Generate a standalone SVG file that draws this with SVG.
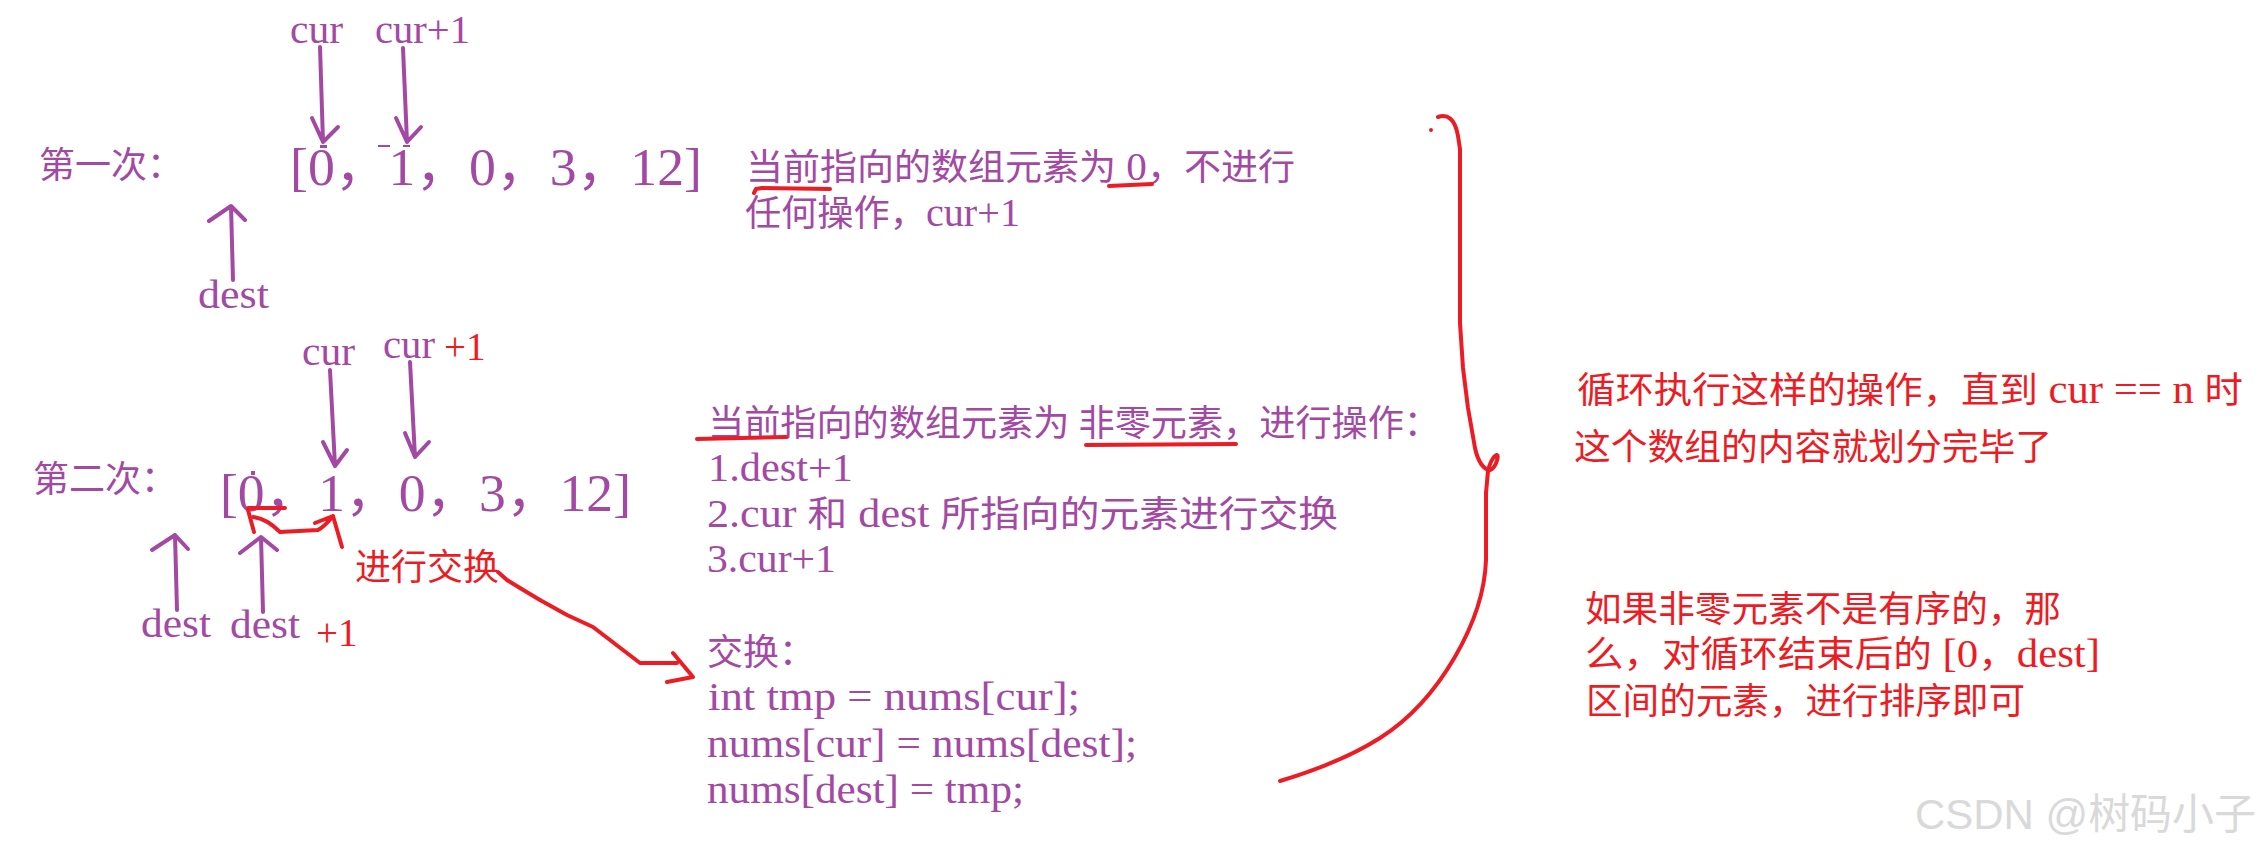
<svg xmlns="http://www.w3.org/2000/svg" width="2262" height="853" viewBox="0 0 2262 853">
<style>
.t{font-family:"Liberation Serif","Noto Sans CJK SC",serif}
.p{fill:#a349a4}
.r{fill:#ed1c24}
.L{font-size:40px}
.ap{fill:none;stroke:#a349a4;stroke-width:4;stroke-linecap:round;stroke-linejoin:round}
.ar{fill:none;stroke:#ed1c24;stroke-width:4;stroke-linecap:round;stroke-linejoin:round}
.wm{font-family:"Liberation Sans","Noto Sans CJK SC",sans-serif;fill:#d9d9d9}
</style>
<rect width="2262" height="853" fill="#ffffff"/>

<g id="row1-label"><text class="t p" x="39" y="178" font-size="36">第一次：</text></g>
<g id="row1-array">
<text class="t p" x="290" y="185" font-size="52" textLength="412" lengthAdjust="spacingAndGlyphs">[0，1，0，3，12]</text>
<rect x="320" y="145" width="7" height="3" fill="#a349a4"/>
<rect x="378" y="145" width="12" height="2" fill="#a349a4"/>
<rect x="403" y="145" width="7" height="2" fill="#a349a4"/>
</g>
<g id="row1-cur"><text class="t p" x="290" y="43" font-size="39" textLength="53" lengthAdjust="spacingAndGlyphs">cur</text></g>
<g id="row1-cur1"><text class="t p" x="375" y="43" font-size="39" textLength="95" lengthAdjust="spacingAndGlyphs">cur+1</text></g>
<g id="row1-dest"><text class="t p" x="198" y="308" font-size="39" textLength="71" lengthAdjust="spacingAndGlyphs">dest</text></g>
<g id="row1-desc">
<text class="t p" x="746" y="180" font-size="36" textLength="549" lengthAdjust="spacingAndGlyphs">当前指向的数组元素为<tspan class="L"> 0</tspan>，不进行</text>
<text class="t p" x="745" y="226" font-size="36" textLength="275" lengthAdjust="spacingAndGlyphs">任何操作，<tspan class="L">cur+1</tspan></text>
</g>

<g id="row2-label"><text class="t p" x="33" y="492" font-size="36">第二次：</text></g>
<g id="row2-array">
<text class="t p" x="220" y="511" font-size="52" textLength="411" lengthAdjust="spacingAndGlyphs">[0，1，0，3，12]</text>
<rect x="251" y="471" width="4" height="4" fill="#a349a4"/>
</g>
<g id="row2-cur"><text class="t p" x="302" y="365" font-size="39" textLength="53" lengthAdjust="spacingAndGlyphs">cur</text></g>
<g id="row2-cur1"><text class="t" x="383" y="358" font-size="39"><tspan class="p" textLength="52" lengthAdjust="spacingAndGlyphs">cur</tspan><tspan class="r" x="444" y="360">+1</tspan></text></g>
<g id="row2-dest"><text class="t p" x="141" y="637" font-size="39" textLength="70" lengthAdjust="spacingAndGlyphs">dest</text></g>
<g id="row2-dest1"><text class="t" x="230" y="638" font-size="39"><tspan class="p" textLength="70" lengthAdjust="spacingAndGlyphs">dest</tspan><tspan class="r" x="316" y="646">+1</tspan></text></g>
<g id="swap-label"><text class="t r" x="355" y="580" font-size="36" textLength="144" lengthAdjust="spacingAndGlyphs">进行交换</text></g>
<g id="row2-desc">
<text class="t p" x="708" y="436" font-size="36" textLength="732" lengthAdjust="spacingAndGlyphs">当前指向的数组元素为 非零元素，进行操作：</text>
<text class="t p L" x="708" y="481" textLength="145" lengthAdjust="spacingAndGlyphs">1.dest+1</text>
<text class="t p" x="707" y="527" font-size="36" textLength="631" lengthAdjust="spacingAndGlyphs"><tspan class="L">2.cur </tspan>和<tspan class="L"> dest </tspan>所指向的元素进行交换</text>
<text class="t p L" x="707" y="572" textLength="129" lengthAdjust="spacingAndGlyphs">3.cur+1</text>
</g>
<g id="swap-code">
<text class="t p" x="707" y="665" font-size="36">交换：</text>
<text class="t p L" x="708" y="710" textLength="372" lengthAdjust="spacingAndGlyphs">int tmp = nums[cur];</text>
<text class="t p L" x="707" y="757" textLength="430" lengthAdjust="spacingAndGlyphs">nums[cur] = nums[dest];</text>
<text class="t p L" x="707" y="803" textLength="317" lengthAdjust="spacingAndGlyphs">nums[dest] = tmp;</text>
</g>

<g id="loop-note">
<text class="t r" x="1577" y="403" font-size="36" textLength="666" lengthAdjust="spacingAndGlyphs">循环执行这样的操作，直到<tspan class="L"> cur == n </tspan>时</text>
<text class="t r" x="1574" y="460" font-size="36" textLength="478" lengthAdjust="spacingAndGlyphs">这个数组的内容就划分完毕了</text>
</g>
<g id="sort-note">
<text class="t r" x="1585" y="622" font-size="36" textLength="476" lengthAdjust="spacingAndGlyphs">如果非零元素不是有序的，那</text>
<text class="t r" x="1585" y="667" font-size="36" textLength="515" lengthAdjust="spacingAndGlyphs">么，对循环结束后的<tspan class="L"> [0</tspan>，<tspan class="L">dest]</tspan></text>
<text class="t r" x="1586" y="714" font-size="36" textLength="439" lengthAdjust="spacingAndGlyphs">区间的元素，进行排序即可</text>
</g>
<g id="watermark"><text class="wm" x="1915" y="829" font-size="42" textLength="341" lengthAdjust="spacingAndGlyphs">CSDN @树码小子</text></g>

<g id="connectors">
<path class="ap" d="M320,47 L323,142 M312,118 L323,142 L338,127"/>
<path class="ap" d="M403,48 L407,142 M396,118 L407,142 L421,127"/>
<path class="ap" d="M233,280 L231,206 M209,221 L231,206 L245,220"/>
<path class="ap" d="M330,370 L335,466 M323,442 L335,466 L347,450"/>
<path class="ap" d="M410,362 L415,457 M405,433 L415,457 L429,442"/>
<path class="ap" d="M177,610 L175,535 M152,550 L175,535 L188,549"/>
<path class="ap" d="M263,612 L261,537 M240,553 L261,537 L277,550"/>
<path class="ar" d="M248,508 L285,508 M248,510 L254,532"/>
<path class="ar" d="M253,517 C262,518 272,524 280,532 L318,530 C324,527 329,521 333,516 M315,523 L333,516 L342,547"/>
<path class="ar" d="M498,572 L507,580 L520,588 L540,600 L567,615 L593,627 L610,640 L623,650 L640,663 L677,663 M673,653 L693,677 L667,682"/>
<path class="ar" d="M754,193 L756,189 L762,188 L830,189"/>
<path class="ar" d="M1109,186 L1152,184"/>
<path class="ar" d="M697,439 L786,437"/>
<path class="ar" d="M1086,445 L1236,444"/>
<path class="ar" d="M1438,117 C1447,114 1455,118 1458,136 L1460,149 L1460,323 L1463,368 L1468,408 L1475,448 C1478,462 1484,470 1490,470 C1496,468 1499,456 1497,455 C1493,456 1489,465 1488,471 L1486,493 L1486,560 C1484,620 1440,700 1380,738 C1350,757 1310,772 1280,781"/>
<circle cx="1431" cy="130" r="2" fill="#ed1c24"/>
</g>
</svg>
